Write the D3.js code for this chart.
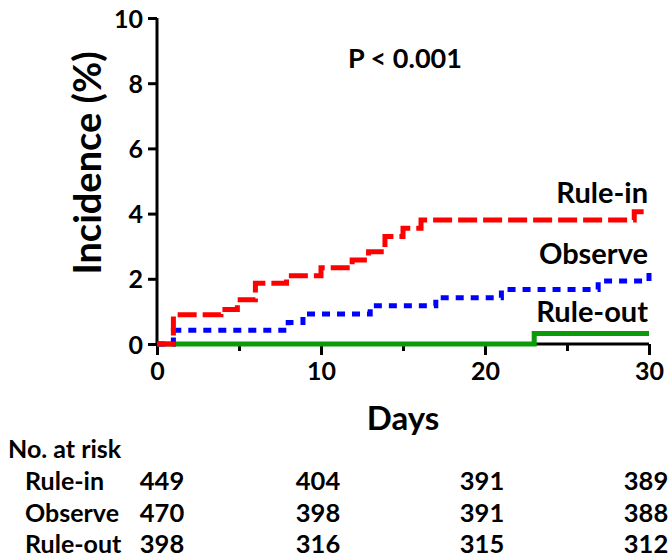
<!DOCTYPE html>
<html><head><meta charset="utf-8">
<script src="https://cdn.jsdelivr.net/npm/d3@7"></script>
<style>body{margin:0;background:#fff}svg{display:block}text{font-family:Lato,"Open Sans",sans-serif;font-weight:700;fill:#000}</style>
</head><body>
<svg id="c" width="670" height="557"></svg>
<script>
// Data
const ruleInDays   = [0, 1, 3.9, 4.9, 6, 7.9, 10, 11.9, 12.9, 13.9, 15, 16.1, 29.1, 30];
const ruleInVals   = [0, 0.9, 1.06, 1.36, 1.86, 2.09, 2.34, 2.58, 2.83, 3.3, 3.55, 3.8, 4.06, 4.06];
const observeDays  = [0, 1, 8, 8.9, 13, 17, 21, 26.9, 30];
const observeVals  = [0, 0.42, 0.66, 0.92, 1.17, 1.42, 1.67, 1.93, 2.18];
const ruleOutDays  = [0, 23, 30];
const ruleOutVals  = [0, 0.32, 0.32];
const xTicks = [0, 10, 20, 30];
const xMinorTicks = [5, 15, 25];
const yTicks = [0, 2, 4, 6, 8, 10];
const groups = ["Rule-in", "Observe", "Rule-out"];
const riskDays = [0, 10, 20, 30];
const riskRuleIn  = [449, 404, 391, 389];
const riskObserve = [470, 398, 391, 388];
const riskRuleOut = [398, 316, 315, 312];

const svg = d3.select("#c");
const x = d3.scaleLinear().domain([0, 30]).range([157, 649]);
const y = d3.scaleLinear().domain([0, 10]).range([344, 18]);

// axes
const xAxis = d3.axisBottom(x).tickValues(xTicks).tickSize(11).tickFormat(d3.format("d"));
const gx = svg.append("g").attr("transform", `translate(0,${y(0)})`).call(xAxis);
gx.select(".domain").attr("stroke", "#000").attr("stroke-width", 3).attr("d", `M${x(0)},0H${x(30)}`);
gx.selectAll(".tick line").attr("stroke", "#000").attr("stroke-width", 3);
gx.selectAll(".tick text").attr("y", 0).attr("dy", null).attr("transform", "translate(0,36)")
  .style("font-size", "25px").style("font-family", "Lato").style("font-weight", 700);
const gxm = svg.append("g").attr("transform", `translate(0,${y(0)})`)
  .call(d3.axisBottom(x).tickValues(xMinorTicks).tickSize(7).tickFormat(""));
gxm.select(".domain").remove();
gxm.selectAll(".tick line").attr("stroke", "#000").attr("stroke-width", 3);

const yAxis = d3.axisLeft(y).tickValues(yTicks).tickSize(9).tickFormat(d3.format("d"));
const gy = svg.append("g").attr("transform", `translate(${x(0)},0)`).call(yAxis);
gy.select(".domain").attr("stroke", "#000").attr("stroke-width", 3).attr("d", `M0,${y(10)}V${y(0)}`);
gy.selectAll(".tick line").attr("stroke", "#000").attr("stroke-width", 3);
gy.selectAll(".tick text").attr("x", -14).attr("dy", "0.36em")
  .style("font-size", "25px").style("font-family", "Lato").style("font-weight", 700);

// curves
const line = d3.line().x(d => x(d[0])).y(d => y(d[1])).curve(d3.curveStepAfter);
const zip = (a, b) => a.map((v, i) => [v, b[i]]);
svg.append("path").datum(zip(ruleOutDays, ruleOutVals)).attr("d", line)
  .attr("fill", "none").attr("stroke", "#0a9a0a").attr("stroke-width", 5);
svg.append("path").datum(zip(observeDays, observeVals)).attr("d", line)
  .attr("fill", "none").attr("stroke", "#0000ff").attr("stroke-width", 5)
  .attr("stroke-dasharray", "8,7");
svg.append("path").datum(zip(ruleInDays, ruleInVals)).attr("d", line)
  .attr("fill", "none").attr("stroke", "#ff0000").attr("stroke-width", 5)
  .attr("stroke-dasharray", "19,6");

// labels
svg.append("text").attr("x", 648).attr("y", 203).attr("text-anchor", "end").style("font-size", "29px").text(groups[0]);
svg.append("text").attr("x", 648).attr("y", 264).attr("text-anchor", "end").style("font-size", "29px").text(groups[1]);
svg.append("text").attr("x", 648).attr("y", 322).attr("text-anchor", "end").style("font-size", "29px").text(groups[2]);
svg.append("text").attr("x", 405).attr("y", 68).attr("text-anchor", "middle").style("font-size", "27px").text("P < 0.001");

svg.append("text").attr("transform", "translate(101,163) rotate(-90)").attr("text-anchor", "middle")
  .style("font-size", "38px").text("Incidence (%)");
svg.append("text").attr("x", 403).attr("y", 430).attr("text-anchor", "middle").style("font-size", "33px").text("Days");

// at risk table
svg.append("text").attr("x", 8).attr("y", 458).style("font-size", "25px").text("No. at risk");
const rows = [riskRuleIn, riskObserve, riskRuleOut];
const rowY = [490, 522, 553];
rows.forEach((r, i) => {
  svg.append("text").attr("x", 25).attr("y", rowY[i]).style("font-size", "25px").text(groups[i]);
  r.forEach((v, j) => {
    svg.append("text").attr("x", x(riskDays[j]) + (j === 0 ? 5 : -3)).attr("y", rowY[i])
      .attr("text-anchor", "middle").style("font-size", "25.5px").text(v);
  });
});
</script>
</body></html>
